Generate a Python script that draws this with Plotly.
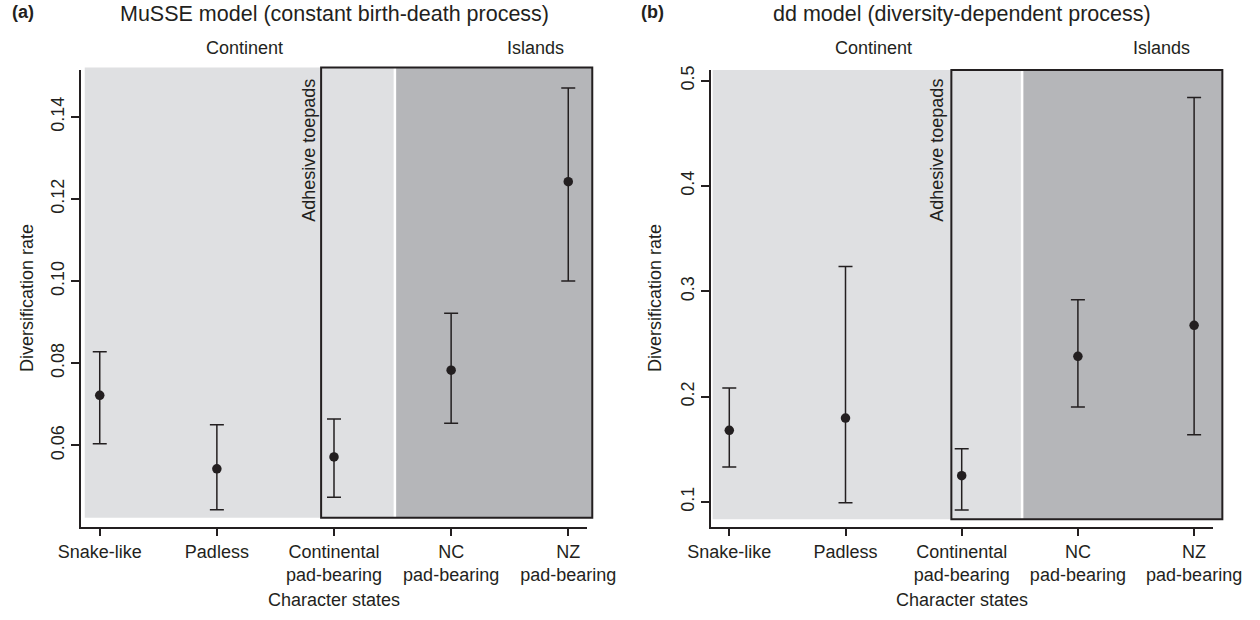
import plotly.graph_objects as go

# ---------------- data ----------------
categories = ["Snake-like", "Padless", "Continental<br>pad-bearing",
              "NC<br>pad-bearing", "NZ<br>pad-bearing"]
positions = [1, 2, 3, 4, 5]

musse_rate = [0.0722, 0.0543, 0.0572, 0.0783, 0.1242]
musse_lower = [0.0604, 0.0443, 0.0474, 0.0654, 0.1000]
musse_upper = [0.0828, 0.0650, 0.0664, 0.0922, 0.1470]

dd_rate = [0.1680, 0.1797, 0.1250, 0.2383, 0.2677]
dd_lower = [0.1331, 0.0993, 0.0924, 0.1901, 0.1639]
dd_upper = [0.2082, 0.3235, 0.1506, 0.2921, 0.4842]

musse_ticks = [0.06, 0.08, 0.10, 0.12, 0.14]
dd_ticks = [0.1, 0.2, 0.3, 0.4, 0.5]

# ---------------- style ----------------
W, H = 1260, 620
INK = "#231f20"
LIGHT = "#dfe0e2"
DARK = "#b5b6b9"
FONT = "Liberation Sans, Arial, Helvetica, sans-serif"
FS = 18

XR = [0.84, 5.16]
YR1 = [0.0402, 0.1514]
YR2 = [0.0765, 0.5102]


def px_y(p):
    return 1 - p / H


fig = go.Figure()

for rate, lo, hi, xa, ya in [(musse_rate, musse_lower, musse_upper, "x", "y"),
                             (dd_rate, dd_lower, dd_upper, "x2", "y2")]:
    fig.add_trace(go.Scatter(
        x=positions, y=rate, mode="markers", xaxis=xa, yaxis=ya,
        marker=dict(size=9.5, color=INK),
        error_y=dict(type="data", symmetric=False,
                     array=[h - r for h, r in zip(hi, rate)],
                     arrayminus=[r - l for r, l in zip(rate, lo)],
                     width=7, thickness=1.5, color=INK),
        showlegend=False, hoverinfo="skip"))

axis_common = dict(showline=True, linecolor=INK, linewidth=1.5, ticks="outside",
                   ticklen=8, tickwidth=1.5, tickcolor=INK, showgrid=False,
                   zeroline=False, automargin=False,
                   tickfont=dict(family=FONT, size=FS, color=INK))

fig.update_layout(
    template="none",
    width=W, height=H, margin=dict(l=0, r=0, t=0, b=0, autoexpand=False),
    paper_bgcolor="white", plot_bgcolor="white",
    xaxis=dict(domain=[81 / W, 587 / W], range=XR, tickvals=positions,
               ticktext=categories, anchor="y", **axis_common),
    yaxis=dict(domain=[px_y(526.7), px_y(70)], range=YR1, tickvals=musse_ticks,
               tickformat=".2f", tickangle=-90, anchor="x", **axis_common),
    xaxis2=dict(domain=[710.7 / W, 1212.7 / W], range=XR, tickvals=positions,
                ticktext=categories, anchor="y2", **axis_common),
    yaxis2=dict(domain=[px_y(526.7), px_y(70)], range=YR2, tickvals=dd_ticks,
                tickformat=".1f", tickangle=-90, anchor="x2", **axis_common),
)


def fx(v):
    return (v - XR[0]) / (XR[1] - XR[0])


def fy(v, yr):
    return (v - yr[0]) / (yr[1] - yr[0])


# background regions: (xaxis, yaxis, yrange, light x0, split x, box x0, box x1, y0, y1)
regions = [
    ("x", "y", YR1, 0.872, 3.52, 2.89, 5.205, 0.0424, 0.1520),
    ("x2", "y2", YR2, 0.857, 3.52, 2.911, 5.243, 0.0836, 0.5102),
]
for xa, ya, yr, lx0, split, bx0, bx1, y0, y1 in regions:
    xd, yd = xa + " domain", ya + " domain"
    fig.add_shape(type="rect", xref=xd, yref=yd, x0=fx(lx0), x1=fx(split),
                  y0=fy(y0, yr), y1=fy(y1, yr), fillcolor=LIGHT,
                  line=dict(width=0), layer="below")
    fig.add_shape(type="rect", xref=xd, yref=yd, x0=fx(split), x1=fx(bx1),
                  y0=fy(y0, yr), y1=fy(y1, yr), fillcolor=DARK,
                  line=dict(width=0), layer="below")
    fig.add_shape(type="line", xref=xd, yref=yd, x0=fx(split), x1=fx(split),
                  y0=fy(y0, yr), y1=fy(y1, yr), line=dict(color="white", width=2.5),
                  layer="below")
    fig.add_shape(type="rect", xref=xd, yref=yd, x0=fx(bx0), x1=fx(bx1),
                  y0=fy(y0, yr), y1=fy(y1, yr), fillcolor="rgba(0,0,0,0)",
                  line=dict(color=INK, width=2), layer="below")

font = dict(family=FONT, size=FS, color=INK)
ann = []
panels = [("x", "(a)", "MuSSE model (constant birth-death process)", 23, 27),
          ("x2", "(b)", "dd model (diversity-dependent process)", 652, 655)]


def add(**kw):
    kw.setdefault("xanchor", "center")
    kw.setdefault("yanchor", "middle")
    kw.setdefault("showarrow", False)
    kw.setdefault("font", font)
    ann.append(kw)


for xa, lab, title, labx, ylabx in panels:
    add(xref="paper", yref="paper", x=labx / W, y=px_y(12),
        text="<b>" + lab + "</b>")
    add(xref=xa, yref="paper", x=3, y=px_y(14), text=title,
        font=dict(family=FONT, size=21.5, color=INK))
    add(xref=xa, yref="paper", x=2.24, y=px_y(48), text="Continent")
    add(xref=xa, yref="paper", x=4.72, y=px_y(48), text="Islands")
    add(xref=xa, yref="paper", x=2.785, y=px_y(150),
        text="Adhesive toepads", textangle=-90)
    add(xref=xa, yref="paper", x=3, y=px_y(600), text="Character states")
    add(xref="paper", yref="paper", x=ylabx / W, y=px_y(298),
        text="Diversification rate", textangle=-90)
fig.update_layout(annotations=ann)

fig.write_html("out.html", config={"displayModeBar": False},
               post_script="document.body.style.margin='0';"
                           "document.body.style.overflow='hidden';")
